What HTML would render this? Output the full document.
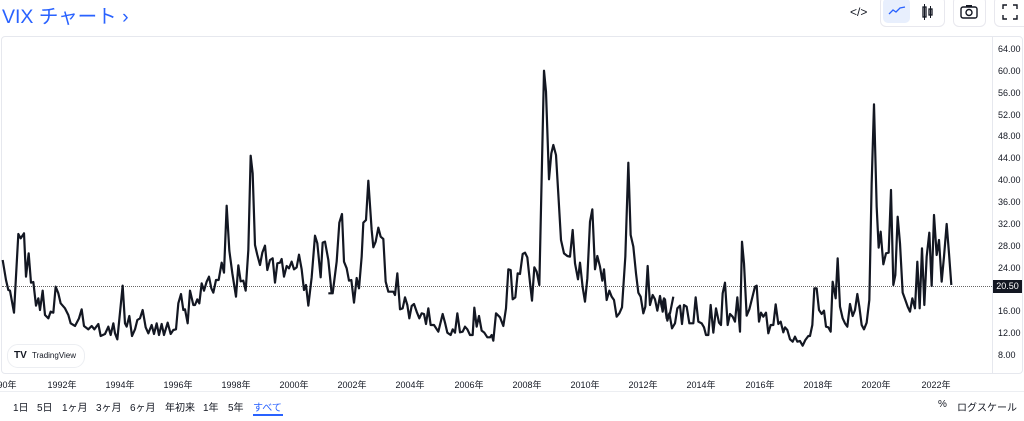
<!DOCTYPE html><html><head><meta charset="utf-8"><style>
body{margin:0;width:1024px;height:421px;background:#fff;overflow:hidden;font-family:"Liberation Sans","Noto Sans CJK JP",sans-serif;position:relative}
.t{position:absolute;white-space:nowrap}
.yl{position:absolute;left:998px;font-size:9px;color:#131722;transform:translateY(-50%)}
.xl{position:absolute;top:378px;font-size:9px;color:#131722;transform:translateX(-50%)}
.bb{position:absolute;top:399px;font-size:10px;color:#131722}
</style></head><body>
<div class="t" style="left:2px;top:0px;font-size:19.5px;color:#2962ff">VIX チャート ›</div>
<div class="t" style="left:850px;top:5px;font-size:12px;color:#131722">&lt;/&gt;</div>
<div style="position:absolute;left:880px;top:-4px;width:63px;height:29px;border:1px solid #e8e8ee;border-radius:6px"></div>
<div style="position:absolute;left:883px;top:-2px;width:27px;height:25px;background:#e8effd;border-radius:5px"></div>
<svg style="position:absolute;left:888px;top:6px" width="18" height="10"><polyline points="1,8 5,4 8,6 12,2 17,1" fill="none" stroke="#2962ff" stroke-width="1.3"/></svg>
<svg style="position:absolute;left:921px;top:3px" width="14" height="18"><rect x="2" y="4" width="3" height="10" fill="none" stroke="#131722" stroke-width="1.3"/><line x1="3.5" y1="1" x2="3.5" y2="17" stroke="#131722"/><rect x="8" y="6" width="3" height="6" fill="none" stroke="#131722" stroke-width="1.3"/><line x1="9.5" y1="3" x2="9.5" y2="15" stroke="#131722"/></svg>
<div style="position:absolute;left:953px;top:-4px;width:31px;height:29px;border:1px solid #e8e8ee;border-radius:6px"></div>
<svg style="position:absolute;left:960px;top:4px" width="18" height="15"><rect x="1" y="3" width="16" height="11" rx="2" fill="none" stroke="#131722" stroke-width="1.4"/><circle cx="9" cy="8.5" r="3" fill="none" stroke="#131722" stroke-width="1.4"/><rect x="6" y="1" width="6" height="2" fill="#131722"/></svg>
<div style="position:absolute;left:994px;top:-4px;width:34px;height:29px;border:1px solid #e8e8ee;border-radius:6px"></div>
<svg style="position:absolute;left:1002px;top:4px" width="16" height="16"><path d="M1 5V1H5M11 1H15V5M15 11V15H11M5 15H1V11" fill="none" stroke="#131722" stroke-width="1.4"/></svg>
<div style="position:absolute;left:1px;top:36px;width:1020px;height:336px;border:1px solid #e6e8ee;border-radius:4px"></div>
<div style="position:absolute;left:992px;top:37px;width:1px;height:336px;background:#e6e8ee"></div>
<div style="position:absolute;left:2px;top:286px;width:990px;border-top:1px dotted #666"></div>
<div class="yl" style="top:49px">64.00</div><div class="yl" style="top:71px">60.00</div><div class="yl" style="top:93px">56.00</div><div class="yl" style="top:115px">52.00</div><div class="yl" style="top:136px">48.00</div><div class="yl" style="top:158px">44.00</div><div class="yl" style="top:180px">40.00</div><div class="yl" style="top:202px">36.00</div><div class="yl" style="top:224px">32.00</div><div class="yl" style="top:246px">28.00</div><div class="yl" style="top:268px">24.00</div><div class="yl" style="top:311px">16.00</div><div class="yl" style="top:333px">12.00</div><div class="yl" style="top:355px">8.00</div>
<div style="position:absolute;left:993px;top:280px;width:29px;height:13px;background:#131722;color:#fff;font-size:9px;line-height:13px;text-align:center">20.50</div>
<svg style="position:absolute;left:0;top:0" width="1024" height="421"><g fill="none" stroke="#131722" stroke-width="2.2" stroke-linejoin="round">
<g transform="translate(0,40) scale(0.33333)"><polyline vector-effect="non-scaling-stroke" points="8,660 18,720 25,750 30,752 42,818 55,582 62,595 72,580 78,710 86,640 93,728 100,726 108,797 115,775 120,810 128,752 135,825 145,835 152,815 160,818 167,740 175,760 182,790 195,805 205,825 212,850 225,858 237,835 245,808 252,858 265,868 275,858 283,868 295,852 302,888 315,882 325,860 332,885 340,850 345,880 352,898 368,737 375,850 380,860 388,828 396,888 405,868 412,840 420,835 428,810 437,862 445,880 455,855 462,882 470,850 477,885 485,852 492,885 503,848 512,882 520,870 528,868 535,790 543,762 550,810 555,808 563,850 570,752 580,795 585,795 592,778 598,790 605,730 612,752 620,725 627,710 634,745 640,758 648,720 656,720 665,668 672,698 680,497 688,632 697,700 708,770 715,676 722,724 730,722 737,752 745,630 752,347 758,400 765,615 772,645 780,675 787,638 795,617 802,690 810,660 818,655 825,728 832,670 840,668 845,657 852,710 860,678 867,685 875,665 882,688 890,682 897,644 905,688 912,750 918,735 925,797 935,712 945,587 952,610 962,712 968,608 975,605 985,660 995,760"/></g>
<g transform="translate(330,40) scale(0.33333)"><polyline vector-effect="non-scaling-stroke" points="-5,760 8,760 20,665 28,548 36,522 42,665 50,685 57,722 64,720 72,788 80,714 87,745 95,650 100,548 108,540 115,422 125,570 130,622 137,605 145,563 152,590 160,597 167,725 175,755 190,755 195,765 202,700 210,808 218,805 225,772 232,795 238,835 245,798 252,792 260,815 268,835 275,820 282,822 288,852 295,805 302,855 312,855 325,875 338,822 345,848 352,878 362,885 368,868 375,878 382,820 390,877 398,875 405,860 412,868 420,885 428,885 433,803 440,860 447,828 455,872 463,878 472,892 480,892 485,885 490,902 498,820 510,832 520,858 528,805 535,688 542,690 548,778 556,772 563,700 570,702 578,642 585,638 592,652 600,728 606,782 613,682 620,695 628,735 642,92 648,155 657,418 664,340 670,315 678,345 686,480 693,600 702,640 712,648 720,650 728,570 735,670 744,718 750,668 758,742 765,785 772,715 780,545 787,508 795,688 802,648 810,680 817,722 822,688 830,780 838,752 845,770 852,780 860,830 868,820 876,802 886,650 895,368 902,585 910,620 918,700 925,758 932,770 940,820 946,800 953,678 960,795 968,765 975,778 982,812 990,768 995,800 1002,775 1010,835 1020,820 1030,770"/></g>
<g transform="translate(660,40) scale(0.33333)"><polyline vector-effect="non-scaling-stroke" points="0,770 8,815 15,778 22,842 28,820 36,865 45,850 52,805 60,797 66,852 72,795 80,800 88,850 100,850 107,772 115,845 125,850 132,862 138,885 145,885 152,795 160,878 168,805 177,848 183,855 188,760 195,728 203,855 210,822 218,830 225,845 232,772 240,875 246,605 252,670 260,827 268,808 275,780 285,740 290,737 297,845 303,818 310,830 318,818 325,880 332,855 340,855 347,793 355,852 362,845 370,877 375,862 382,870 390,898 398,905 405,890 412,905 420,903 428,917 436,900 445,888 450,888 457,855 463,745 470,745 477,810 485,822 492,812 498,860 505,862 512,875 518,725 527,775 533,655 540,800 548,835 555,850 562,860 570,792 578,828 585,810 592,762 598,800 605,855 612,868 620,848 628,780 635,430 642,193 650,500 656,623 662,575 670,673 678,640 686,638 693,450 700,735 706,705 713,530 720,610 728,758 736,780 743,800 750,815 757,775 765,805 772,665 779,805 786,625 793,795 800,650 808,578 815,738 822,525 830,645 837,600 845,725 852,650 860,552 867,640 874,735"/></g>
</g></svg>
<div style="position:absolute;left:7px;top:344px;width:76px;height:22px;border:1px solid #eceef2;border-radius:11px;background:#fff"></div>
<div class="t" style="left:14px;top:350px;font-size:10px;font-weight:bold;color:#131722">TV</div>
<div class="t" style="left:32px;top:351px;font-size:8px;color:#131722">TradingView</div>
<div class="xl" style="left:2px">1990年</div><div class="xl" style="left:62px">1992年</div><div class="xl" style="left:120px">1994年</div><div class="xl" style="left:178px">1996年</div><div class="xl" style="left:236px">1998年</div><div class="xl" style="left:294px">2000年</div><div class="xl" style="left:352px">2002年</div><div class="xl" style="left:410px">2004年</div><div class="xl" style="left:469px">2006年</div><div class="xl" style="left:527px">2008年</div><div class="xl" style="left:585px">2010年</div><div class="xl" style="left:643px">2012年</div><div class="xl" style="left:701px">2014年</div><div class="xl" style="left:760px">2016年</div><div class="xl" style="left:818px">2018年</div><div class="xl" style="left:876px">2020年</div><div class="xl" style="left:936px">2022年</div>
<div style="position:absolute;left:0;top:391px;width:1024px;height:1px;background:#eceef2"></div>
<div class="bb" style="left:13px">1日</div><div class="bb" style="left:37px">5日</div><div class="bb" style="left:62px">1ヶ月</div><div class="bb" style="left:96px">3ヶ月</div><div class="bb" style="left:130px">6ヶ月</div><div class="bb" style="left:165px">年初来</div><div class="bb" style="left:203px">1年</div><div class="bb" style="left:228px">5年</div><div class="bb" style="left:253px;color:#2962ff">すべて</div>
<div style="position:absolute;left:253px;top:414px;width:30px;height:2px;background:#2962ff"></div>
<div class="bb" style="left:938px">%</div><div class="bb" style="left:957px">ログスケール</div>
</body></html>
